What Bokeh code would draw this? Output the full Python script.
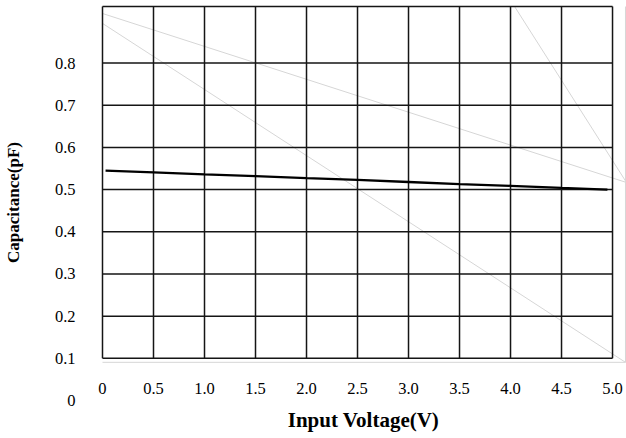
from bokeh.plotting import figure
from bokeh.models import FixedTicker, Range1d
from bokeh.embed import file_html
from bokeh.resources import INLINE

# ---- data ----
voltage = [0.03, 0.5, 1.0, 1.5, 2.0, 2.5, 3.0, 3.5, 4.0, 4.5, 4.95]
capacitance = [0.545, 0.541, 0.536, 0.532, 0.527, 0.523, 0.518, 0.513, 0.509, 0.504, 0.500]

x_ticks = [0.0, 0.5, 1.0, 1.5, 2.0, 2.5, 3.0, 3.5, 4.0, 4.5, 5.0]
x_tick_labels = ["0", "0.5", "1.0", "1.5", "2.0", "2.5", "3.0", "3.5", "4.0", "4.5", "5.0"]
y_ticks = [0.0, 0.1, 0.2, 0.3, 0.4, 0.5, 0.6, 0.7, 0.8]
y_tick_labels = ["0", "0.1", "0.2", "0.3", "0.4", "0.5", "0.6", "0.7", "0.8"]
grid_y_lines = [0.1, 0.2, 0.3, 0.4, 0.5, 0.6, 0.7, 0.8]
grid_top = 0.934

# faint grey construction lines visible in the original
faint_x0 = [0.0, 0.0, 4.04, 0.0, 5.127]
faint_y0 = [0.9175, 0.894, 0.934, 0.0905, 0.934]
faint_x1 = [5.137, 5.127, 5.137, 5.127, 5.127]
faint_y1 = [0.5168, 0.0905, 0.5168, 0.0905, 0.0905]

SERIF = "Liberation Serif"

x_start, x_end = -0.0196, 5.137
y_start, y_end = -0.0095, 0.9483

p = figure(width=626, height=438, output_backend="svg", toolbar_location=None,
           x_range=Range1d(x_start, x_end), y_range=Range1d(y_start, y_end),
           min_border_left=99, min_border_right=0, min_border_top=0, min_border_bottom=34)
p.grid.visible = False
p.outline_line_color = None
p.background_fill_color = "white"
p.border_fill_color = "white"

# faint lines
p.segment(x0=faint_x0, y0=faint_y0, x1=faint_x1, y1=faint_y1,
          line_color="#d6d6d6", line_width=1)

# black grid box
grid_left, grid_right = x_ticks[0], x_ticks[-1]
grid_bottom = grid_y_lines[0]
p.segment(x0=x_ticks, y0=[grid_bottom] * len(x_ticks), x1=x_ticks, y1=[grid_top] * len(x_ticks),
          line_color="#151515", line_width=1.5)
hy = grid_y_lines + [grid_top]
p.segment(x0=[grid_left] * len(hy), y0=hy, x1=[grid_right] * len(hy), y1=hy,
          line_color="#151515", line_width=1.5)

# data line
p.line(voltage, capacitance, line_color="black", line_width=2.3)

for ax in (p.xaxis[0], p.yaxis[0]):
    ax.axis_line_color = None
    ax.major_tick_line_color = None
    ax.minor_tick_line_color = None
    ax.major_tick_in = 0
    ax.major_tick_out = 0
    ax.major_label_text_font = SERIF
    ax.major_label_text_font_size = "16.5px"
    ax.major_label_text_color = "black"
    ax.axis_label_text_font = SERIF
    ax.axis_label_text_font_style = "bold"
    ax.axis_label_text_color = "black"

xa = p.xaxis[0]
xa.ticker = FixedTicker(ticks=x_ticks)
xa.major_label_overrides = {t: l for t, l in zip(x_ticks, x_tick_labels)}
xa.major_label_standoff = -22
xa.axis_label = "Input Voltage(V)"
xa.axis_label_text_font_size = "21px"
xa.axis_label_standoff = 11

ya = p.yaxis[0]
ya.ticker = FixedTicker(ticks=y_ticks)
ya.major_label_overrides = {t: l for t, l in zip(y_ticks, y_tick_labels)}
ya.major_label_standoff = 25
ya.axis_label = "Capacitance(pF)"
ya.axis_label_text_font_size = "17px"
ya.axis_label_standoff = 29

open("out.html", "w").write(file_html(p, INLINE))
